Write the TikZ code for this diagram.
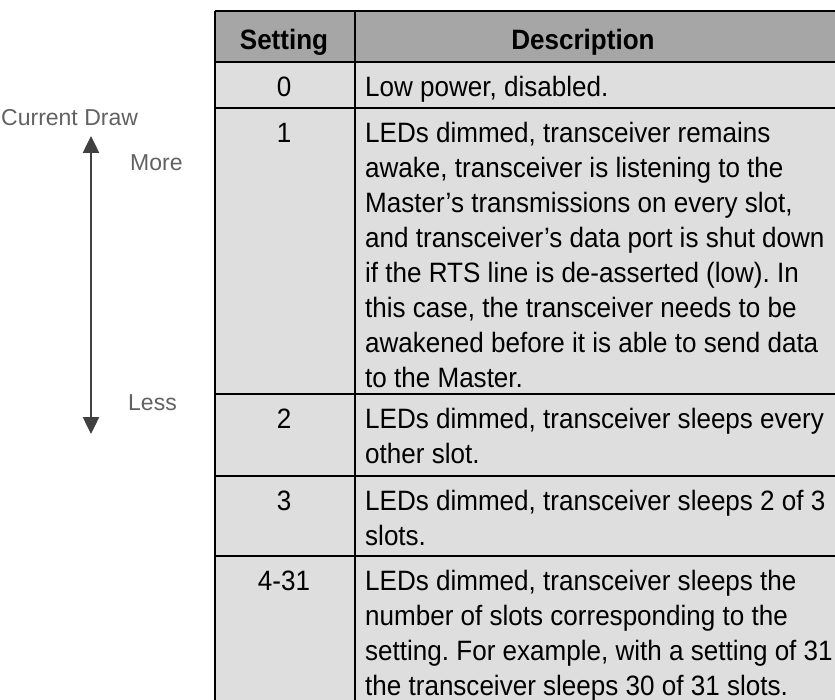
\documentclass[tikz,border=0pt]{standalone}
\usepackage{fontspec}
\setmainfont{Liberation Sans}
\newfontfamily\tablefont[FakeStretch=0.93]{Liberation Sans}
\frenchspacing
\usetikzlibrary{arrows.meta}
\colorlet{headBg}{black!35}
\colorlet{rowBg}{black!13}
\colorlet{drawGray}{black!75}
\tikzset{
cellstyle/.style={inner sep=0pt, font=\tablefont\fontsize{28}{35}\selectfont},
headstyle/.style={inner sep=0pt, font=\tablefont\fontsize{28}{35}\selectfont\bfseries},
labelstyle/.style={inner sep=0pt, text=black!62, font=\fontsize{23}{28}\selectfont},
gridline/.style={line width=2.5pt, black},
drawarrow/.style={line width=2.5pt, drawGray, {Triangle[width=16pt,length=17pt]}-{Triangle[width=16pt,length=17pt]}}
}
\newcommand{\setrow}[5]{
  \fill[rowBg] (215,#2) rectangle (835,#3);
  \node[cellstyle, anchor=north] (#1set) at (284,#2+9.5) {\strut #4};
  \node[cellstyle, anchor=north west, align=left] (#1desc) at (365,#2+9.5) {\strut #5};
  \draw[gridline] (215,#2) -- (835,#2);
}

\begin{document}
\begin{tikzpicture}[x=1pt, y=-1pt]
\useasboundingbox (0,0) rectangle (835,700);

% header
\fill[headBg] (215,11) rectangle (835,62);
\draw[gridline] (215,11) -- (835,11);
\node[headstyle, anchor=base] (headset) at (284,50) {Setting};
\node[headstyle, anchor=base] (headdesc) at (583,50) {Description};

\setrow {r0}{62}{108}{0}{Low power, disabled.}
\setrow {r1}{108}{394}{1}{LEDs dimmed, transceiver remains\\
awake, transceiver is listening to the\\
Master’s transmissions on every slot,\\
and transceiver’s data port is shut down\\
if the RTS line is de-asserted (low). In\\
this case, the transceiver needs to be\\
awakened before it is able to send data\\
to the Master.}
\setrow {r2}{394}{476}{2}{LEDs dimmed, transceiver sleeps every\\
other slot.}
\setrow {r3}{476}{556}{3}{LEDs dimmed, transceiver sleeps 2 of 3\\
slots.}
\setrow {r4}{556}{700}{4-31}{LEDs dimmed, transceiver sleeps the\\
number of slots corresponding to the\\
setting. For example, with a setting of 31\\
the transceiver sleeps 30 of 31 slots.}

\draw[gridline] (215,11) -- (215,700);
\draw[gridline] (355,11) -- (355,700);

% current draw scale
\node[labelstyle, anchor=west] (drawlabel) at (1,118) {Current Draw};
\coordinate (drawtop) at (91,136);
\coordinate (drawbot) at (91,434);
\draw[drawarrow] (drawbot) -- (drawtop);
\node[labelstyle, anchor=west] (more) at (130,163) {More};
\node[labelstyle, anchor=west] (less) at (128,403) {Less};
\end{tikzpicture}
\end{document}
